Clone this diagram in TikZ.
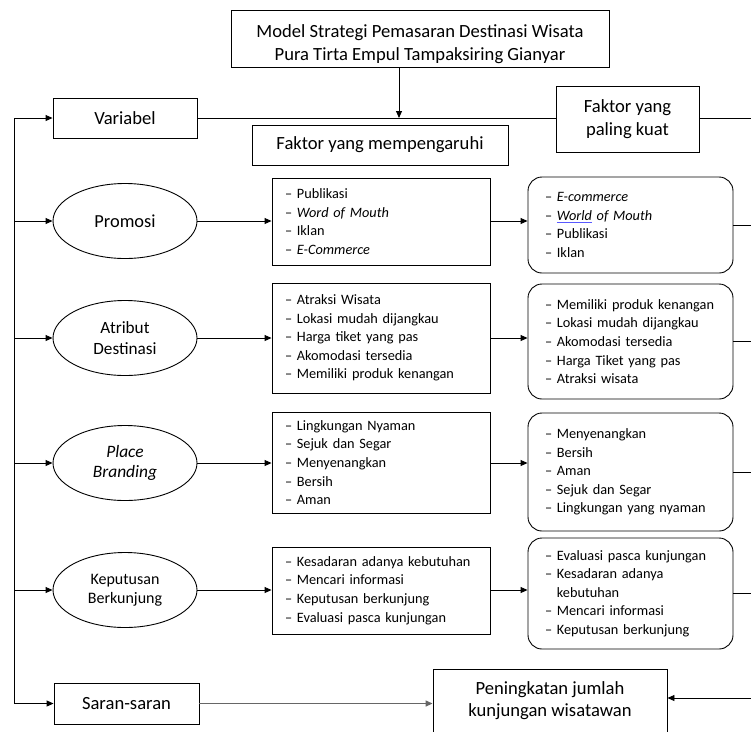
\documentclass[tikz,border=0pt]{standalone}
\usepackage{fontspec}
\setmainfont{Carlito}
\usetikzlibrary{arrows.meta,shapes.geometric}

\newcommand{\hurufBesar}{\fontsize{18.6}{22.5}\selectfont}
\newcommand{\hurufKecil}{\fontsize{14.3}{18.6}\selectfont}
\newcommand{\garisBiru}[1]{\textcolor{blue!65}{\underline{\textcolor{black}{#1}}}}

\tikzset{
  kotak/.style={draw, line width=0.9pt, inner sep=0pt, align=center, font=\hurufBesar},
  elips/.style={draw, ellipse, line width=0.9pt, inner sep=0pt,
    minimum width=144pt, minimum height=75pt, align=center},
  daftar/.style={draw, line width=0.9pt, text width=192pt, inner xsep=13pt,
    inner ysep=0pt, align=left, font=\hurufKecil},
  ringkas/.style={draw, line width=0.9pt, rounded corners=14pt, text width=171pt,
    inner xsep=17pt, inner ysep=0pt, align=left, font=\hurufKecil},
  garis/.style={line width=0.9pt},
}

\begin{document}
\begin{tikzpicture}[x=1pt, y=-1pt, >={Triangle[length=7pt, width=6pt]}]
  \useasboundingbox (0,0) rectangle (751,731);
  \clip (0,0) rectangle (751,731);

  % --- 1. Judul dan baris atas ---
  \node[kotak, minimum width=378pt, minimum height=57pt, text height=47pt] (Model) at (420,38.5)
    {Model Strategi Pemasaran Destinasi Wisata\\ Pura Tirta Empul Tampaksiring Gianyar};
  \node[kotak, minimum width=144pt, minimum height=40pt] (Variabel) at (125,118) {Variabel};
  \node[kotak, minimum width=256pt, minimum height=40pt] (FaktorPengaruh) at (380,145) {Faktor yang mempengaruhi};
  \node[kotak, minimum width=143pt, minimum height=66pt] (FaktorKuat) at (627.5,119) {Faktor yang\\ paling kuat};

  \coordinate (Tengah) at (399,118);
  \coordinate (Atas) at (14,118);
  \coordinate (Bawah) at (14,703.5);
  \coordinate (EKuat) at (751,118);

  \draw[garis, ->] (Model.south -| Tengah) -- (Tengah);
  \draw[garis] (Variabel.east) -- (Variabel -| FaktorKuat.west);
  \draw[garis] (EKuat -| FaktorKuat.east) -- (EKuat);

  % --- 2. Variabel (elips) ---
  \node[elips, font=\fontsize{18.4}{22}\selectfont] (Promosi) at (125,221) {Promosi};
  \node[elips, font=\fontsize{17.2}{21.5}\selectfont] (Atribut) at (125,338) {Atribut\\ Destinasi};
  \node[elips, font=\fontsize{17.4}{20}\selectfont\itshape] (Place) at (125,463) {Place\\ Branding};
  \node[elips, font=\fontsize{16}{19}\selectfont] (Keputusan) at (125,590) {Keputusan\\ Berkunjung};

  % --- 3. Faktor yang mempengaruhi ---
  \node[daftar, minimum height=87pt] (LPromosi) at (381,221.5)
    {– Publikasi\\ – \textit{Word of Mouth}\\ – Iklan\\ – \textit{E-Commerce}};
  \node[daftar, minimum height=110pt] (LAtribut) at (381,338)
    {– Atraksi Wisata\\ – Lokasi mudah dijangkau\\ – Harga tiket yang pas\\
     – Akomodasi tersedia\\ – Memiliki produk kenangan};
  \node[daftar, minimum height=101pt] (LPlace) at (381,462.5)
    {– Lingkungan Nyaman\\ – Sejuk dan Segar\\ – Menyenangkan\\ – Bersih\\ – Aman};
  \node[daftar, minimum height=87pt] (LKeputusan) at (381,590.5)
    {– Kesadaran adanya kebutuhan\\ – Mencari informasi\\ – Keputusan berkunjung\\
     – Evaluasi pasca kunjungan};

  % --- 4. Faktor yang paling kuat ---
  \node[ringkas, minimum height=96pt] (RPromosi) at (630.5,225)
    {– \textit{E-commerce}\\ – \textit{\garisBiru{World} of Mouth}\\ – Publikasi\\ – Iklan};
  \node[ringkas, minimum height=115pt] (RAtribut) at (630.5,341.5)
    {– Memiliki produk kenangan\\ – Lokasi mudah dijangkau\\ – Akomodasi tersedia\\
     – Harga Tiket yang pas\\ – Atraksi wisata};
  \node[ringkas, minimum height=118pt] (RPlace) at (630.5,472)
    {– Menyenangkan\\ – Bersih\\ – Aman\\ – Sejuk dan Segar\\ – Lingkungan yang nyaman};
  \node[ringkas, minimum height=111pt] (RKeputusan) at (630.5,593.5)
    {– Evaluasi pasca kunjungan\\ – Kesadaran adanya\\ \phantom{– }kebutuhan\\
     – Mencari informasi\\ – Keputusan berkunjung};

  % panah tiap baris
  \foreach \v in {Promosi, Atribut, Place, Keputusan} {
    \draw[garis, ->] (\v -| Atas) -- (\v);
    \draw[garis, ->] (\v.east) -- (\v -| L\v.west);
    \draw[garis, ->] (\v -| L\v.east) -- (\v -| R\v.west);
    \draw[garis] (R\v.east) -- (R\v.east -| EKuat);
  }

  % --- 5. Baris bawah ---
  \node[kotak, minimum width=145pt, minimum height=41pt] (Saran) at (126.5,703.5) {Saran-saran};
  \node[kotak, minimum width=234pt, minimum height=76pt, text depth=16pt] (Peningkatan) at (550,707)
    {Peningkatan jumlah\\ kunjungan wisatawan};
  \coordinate (EBawah) at (751,698);

  \draw[garis] (Bawah) -- (Atas);
  \draw[garis, ->] (Atas) -- (Variabel);
  \draw[garis, ->] (Bawah) -- (Saran);
  \draw[->, line width=1.4pt, draw=black!60] (Saran.east) -- (Saran -| Peningkatan.west);
  \draw[garis, ->] (EBawah) -- (EBawah -| Peningkatan.east);

\end{tikzpicture}
\end{document}
